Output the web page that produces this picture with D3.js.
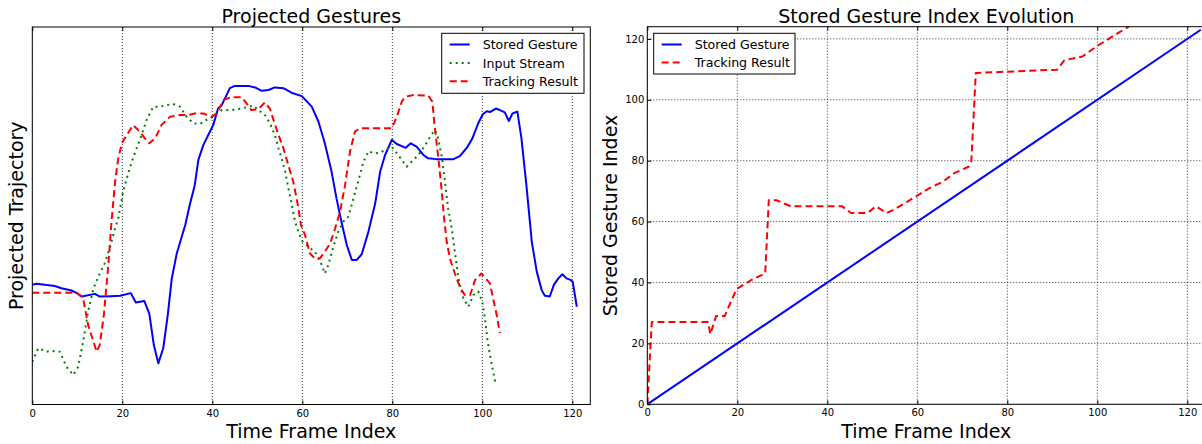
<!DOCTYPE html>
<html>
<head>
<meta charset="utf-8">
<script src="https://cdn.jsdelivr.net/npm/d3@7"></script>
<style>
  html, body { margin: 0; padding: 0; background: #fff; }
  svg { display: block; font-family: "DejaVu Sans", sans-serif; }
</style>
</head>
<body>
<svg id="chart" width="1202" height="444"></svg>
<script>
// ---------------- data ----------------
const xTicks = [0, 20, 40, 60, 80, 100, 120];
const yTicksRight = [0, 20, 40, 60, 80, 100, 120];

const titles = ["Projected Gestures", "Stored Gesture Index Evolution"];
const xLabels = ["Time Frame Index", "Time Frame Index"];
const yLabels = ["Projected Trajectory", "Stored Gesture Index"];
const legendLeft = ["Stored Gesture", "Input Stream", "Tracking Result"];
const legendRight = ["Stored Gesture", "Tracking Result"];

// left panel: [frame, projected value]
const storedGesture = [[0,31.7],[1,32.0],[2.8,31.7],[5,31.4],[6.5,30.8],[8.7,30.2],[9.9,29.5],[11,28.6],[13.9,29.3],[15,28.6],[17.6,28.7],[19.5,28.8],[21.9,29.5],[23,27],[24.9,27.4],[26,24.1],[27,15.8],[28,10.9],[29.1,14.9],[30.1,23.7],[31,33.4],[32.1,40.0],[34,47.6],[35,52.9],[36.1,58.1],[36.9,64.8],[38,68.7],[39.1,71.4],[40.2,74],[41.3,78.5],[42.1,79.3],[43.9,83.8],[45,84.4],[48,84.4],[49.5,84],[51,83.1],[52.5,83.3],[53.9,84],[55.8,83.8],[57.6,82.6],[59.9,81.7],[62.1,78.9],[63.6,74.9],[65,69.2],[66.5,61.7],[67.6,54.6],[68.7,48.4],[69.9,42.2],[71,38.3],[72.1,38.3],[73.2,39.8],[74.7,45.8],[76.2,53.3],[77.3,61.7],[78.4,66.1],[79.9,70.1],[81,69],[83,68],[84.1,69.2],[85.4,68.3],[86.9,66.1],[88,65.2],[89.8,65],[93.6,65],[95,65.8],[96.5,67.9],[97.8,70.5],[99.1,74.5],[100.1,76.9],[101,77.7],[101.8,77.5],[103,78.4],[103.9,78],[105,77.4],[105.9,75.1],[106.7,77.1],[107.8,77.6],[108.7,70.5],[109.8,58.1],[111,43.1],[112.1,35.2],[113.2,30.3],[113.9,28.8],[115,28.6],[115.9,31.7],[116.9,33.4],[117.8,34.5],[118.7,33.4],[119.6,33],[120.1,32.5],[121,25.9]];

const inputStream = [[0,11.3],[1.3,14.9],[3.2,14],[4.3,14.2],[6.1,14],[7.6,10],[9.1,7.8],[10.2,10],[11.3,16.6],[12.4,24.6],[13.6,30.8],[15,34.7],[16.1,37.4],[17.3,41.8],[18.4,46.7],[19.1,49.3],[20.2,56.4],[21.3,61.2],[22.1,64.3],[23.2,67.9],[24.3,71.4],[25.4,75.4],[26.9,78.9],[28.4,78.9],[29.9,79.3],[31.3,79.6],[32.8,78.9],[34.3,76.2],[35.8,74.5],[37.3,74.3],[38.7,75.4],[40.2,76.2],[42.1,78],[44.3,78],[46.5,78.4],[49.1,79.2],[50.6,77.7],[51.7,76.7],[52.8,74.5],[53.9,71.4],[54.7,67.9],[55.4,65.2],[56.2,61.7],[56.9,57.3],[57.6,53.3],[58.4,48.4],[59.1,45.8],[60,43.3],[61.3,41.8],[62.8,40.5],[64.3,37],[65,34.7],[65.8,37],[66.9,41.8],[68,45.8],[69.1,48.4],[70.2,49.7],[71.3,54.2],[72.5,59.5],[73.6,64.3],[74.7,67.1],[76,66.5],[77.3,66.7],[78.4,67.4],[79.9,68.3],[81.3,66.1],[82.4,64.3],[83.2,63],[84.7,64.8],[85.8,66.1],[87.3,68.7],[88.7,71.5],[89.5,72.7],[90.2,70.5],[91,65.6],[91.7,59],[92.4,52],[93.2,46.7],[93.9,40.5],[94.7,33.4],[95.8,28.1],[96.9,25.9],[98,29],[99.1,29.9],[100,27.2],[100.6,22.8],[101.1,17.5],[101.7,13.1],[102.4,8.7],[103,5.2]];

const trackingResult = [[0,29.6],[9.9,29.6],[11.3,28.1],[12.4,21.1],[13.6,16.6],[14.3,14],[15,15.8],[15.9,23.7],[16.9,37],[17.6,48.4],[18.4,59],[19.1,65.2],[19.9,69.2],[21,71.4],[22.4,74],[23.9,72.3],[25,70.5],[26,69.2],[27.3,70.5],[28.7,74],[30.6,76.2],[32.8,76.7],[34.7,76.7],[36.1,77.1],[38,77.1],[39.9,76.2],[41,77.1],[42.5,80.7],[44.3,81.4],[46.5,81.4],[47.6,79.8],[48.7,78],[50.2,78.2],[51.7,80],[52.8,78.4],[53.6,75.4],[54.7,71.4],[55.8,67.9],[56.9,63.4],[58,59],[59,52.9],[59.7,47.6],[60.6,44.9],[61.7,40],[62.8,38.7],[63.9,38.7],[65,40.5],[66.2,42.7],[67.3,46.7],[68.4,51.1],[69.5,58.1],[70.6,67],[71.7,72.3],[72.8,73.2],[79.9,73.2],[81,76.2],[82.1,80.2],[82.8,81.5],[84.7,82],[88,81.8],[88.9,80.2],[89.3,75],[89.8,69.7],[90.4,63.5],[91,56.4],[91.5,49.3],[92.1,43.1],[92.8,38.7],[93.9,34.7],[95,31.2],[96.1,29],[97.3,29],[98.4,33],[99.8,34.7],[101.7,32.1],[102.4,28.1],[103.2,23.7],[103.9,18.9]];

// right panel: [frame, stored gesture index]
const storedIndex = [[0,0],[123,123]];
const trackedIndex = [[0,0],[1,27],[13.5,27],[14,23],[15.3,29],[17.2,29],[19.8,37.8],[23.2,40.9],[25.5,42.5],[26.2,43],[27,67],[28.7,67],[31.9,65],[43.3,65],[45.3,62.8],[48.9,62.8],[50.8,65],[53.2,62.8],[54.8,63.9],[57.2,66],[60.3,68.8],[62.7,71],[65.8,73.2],[68.2,75.9],[71.4,78],[72,79.7],[73,108.8],[91.1,109.9],[92.7,113],[96.7,114.2],[99.8,117.5],[102.2,119.7],[104.6,121.9],[107,124]];

// ---------------- styles ----------------
const BLUE = "#0000ff", GREEN = "#008000", RED = "#ff0000";
const styles = {
  stored:   {color: BLUE,  dash: null},
  input:    {color: GREEN, dash: "2,4"},
  tracking: {color: RED,   dash: "7,4"}
};

const svg = d3.select("#chart");
svg.append("rect").attr("width", 1202).attr("height", 444).attr("fill", "#fff");

const panels = [
  {x0: 32.3, x1: 590.3, y0: 27, y1: 404.5, xDom: [0,124], yDom: [0,100]},
  {x0: 647.3, x1: 1205.3, y0: 26.7, y1: 404.3, xDom: [0,124], yDom: [0,124]}
];
panels.forEach(p => {
  p.x = d3.scaleLinear().domain(p.xDom).range([p.x0, p.x1]);
  p.y = d3.scaleLinear().domain(p.yDom).range([p.y1, p.y0]);
});

const defs = svg.append("defs");
panels.forEach((p, i) => {
  defs.append("clipPath").attr("id", "clip" + i)
    .append("rect").attr("x", p.x0).attr("y", p.y0)
    .attr("width", p.x1 - p.x0).attr("height", p.y1 - p.y0);
});

function drawGrid(p, g, horiz) {
  const grid = g.append("g").attr("clip-path", "url(#clip" + panels.indexOf(p) + ")");
  grid.selectAll("line.vx").data(xTicks).join("line")
    .attr("x1", d => p.x(d)).attr("x2", d => p.x(d))
    .attr("y1", p.y0).attr("y2", p.y1)
    .attr("stroke", "#000").attr("stroke-width", 0.8).attr("stroke-dasharray", "1,2");
  if (horiz) {
    grid.selectAll("line.hy").data(yTicksRight).join("line")
      .attr("x1", p.x0).attr("x2", p.x1)
      .attr("y1", d => p.y(d)).attr("y2", d => p.y(d))
      .attr("stroke", "#000").attr("stroke-width", 0.8).attr("stroke-dasharray", "1,2");
  }
}

function drawLine(p, g, data, st) {
  const line = d3.line().x(d => p.x(d[0])).y(d => p.y(d[1]));
  g.append("path").datum(data)
    .attr("clip-path", "url(#clip" + panels.indexOf(p) + ")")
    .attr("d", line).attr("fill", "none")
    .attr("stroke", st.color).attr("stroke-width", 2)
    .attr("stroke-linejoin", "round")
    .attr("stroke-dasharray", st.dash);
}

function drawAxes(p, g, showY) {
  const bottom = g.append("g").attr("transform", `translate(0,${p.y1})`)
    .call(d3.axisBottom(p.x).tickValues(xTicks).tickFormat(d3.format("d"))
      .tickSizeInner(-4).tickSizeOuter(0).tickPadding(5));
  const top = g.append("g").attr("transform", `translate(0,${p.y0})`)
    .call(d3.axisTop(p.x).tickValues(xTicks).tickFormat("")
      .tickSizeInner(-4).tickSizeOuter(0));
  [bottom, top].forEach(a => { a.select(".domain").remove(); });
  if (showY) {
    const left = g.append("g").attr("transform", `translate(${p.x0},0)`)
      .call(d3.axisLeft(p.y).tickValues(yTicksRight).tickFormat(d3.format("d"))
        .tickSizeInner(-4).tickSizeOuter(0).tickPadding(3));
    left.select(".domain").remove();
    left.selectAll("text").attr("font-size", 10).attr("font-family", "DejaVu Sans").attr("fill", "#000");
    left.selectAll("line").attr("stroke", "#000");
  }
  bottom.selectAll("text").attr("font-size", 10).attr("font-family", "DejaVu Sans").attr("fill", "#000");
  g.selectAll(".tick line").attr("stroke", "#000");
  g.append("rect").attr("x", p.x0).attr("y", p.y0)
    .attr("width", p.x1 - p.x0).attr("height", p.y1 - p.y0)
    .attr("fill", "none").attr("stroke", "#000").attr("stroke-width", 1);
}

function drawLegend(g, x, y, w, h, labels, stylesList, rows) {
  const lg = g.append("g");
  lg.append("rect").attr("x", x).attr("y", y).attr("width", w).attr("height", h)
    .attr("fill", "#fff").attr("stroke", "#000").attr("stroke-width", 1);
  labels.forEach((lab, i) => {
    const cy = rows[i];
    lg.append("line").attr("x1", x + 8).attr("x2", x + 28)
      .attr("y1", cy).attr("y2", cy)
      .attr("stroke", stylesList[i].color).attr("stroke-width", 2)
      .attr("stroke-dasharray", stylesList[i].dash);
    lg.append("text").attr("x", x + 41).attr("y", cy).attr("dy", "0.36em")
      .attr("font-size", 12.6).attr("fill", "#000").text(lab);
  });
}

// ---------------- left panel ----------------
const pL = panels[0];
const gL = svg.append("g");
drawGrid(pL, gL, false);
drawLine(pL, gL, storedGesture, styles.stored);
drawLine(pL, gL, inputStream, styles.input);
drawLine(pL, gL, trackingResult, styles.tracking);
drawAxes(pL, gL, false);
drawLegend(gL, 441.7, 33.3, 142.3, 60, legendLeft,
  [styles.stored, styles.input, styles.tracking], [44.5, 63, 81.3]);

// ---------------- right panel ----------------
const pR = panels[1];
const gR = svg.append("g");
drawGrid(pR, gR, true);
drawLine(pR, gR, storedIndex, styles.stored);
drawLine(pR, gR, trackedIndex, styles.tracking);
drawAxes(pR, gR, true);
drawLegend(gR, 653.7, 33.3, 141.3, 40.7, legendRight,
  [styles.stored, styles.tracking], [44.5, 62.5]);

// ---------------- titles & labels ----------------
panels.forEach((p, i) => {
  const cx = i === 0 ? (p.x0 + p.x1) / 2 : 926;
  svg.append("text").attr("x", (p.x0 + p.x1) / 2).attr("y", 22.5)
    .attr("text-anchor", "middle").attr("font-size", 19).attr("fill", "#000")
    .text(titles[i]);
  svg.append("text").attr("x", (p.x0 + p.x1) / 2).attr("y", 437.5)
    .attr("text-anchor", "middle").attr("font-size", 19).attr("fill", "#000")
    .text(xLabels[i]);
});
const yLabX = [23.3, 616.5];
panels.forEach((p, i) => {
  const cy = (p.y0 + p.y1) / 2;
  svg.append("text").attr("transform", `translate(${yLabX[i]},${cy}) rotate(-90)`)
    .attr("text-anchor", "middle").attr("font-size", 19).attr("fill", "#000")
    .text(yLabels[i]);
});
</script>
</body>
</html>
